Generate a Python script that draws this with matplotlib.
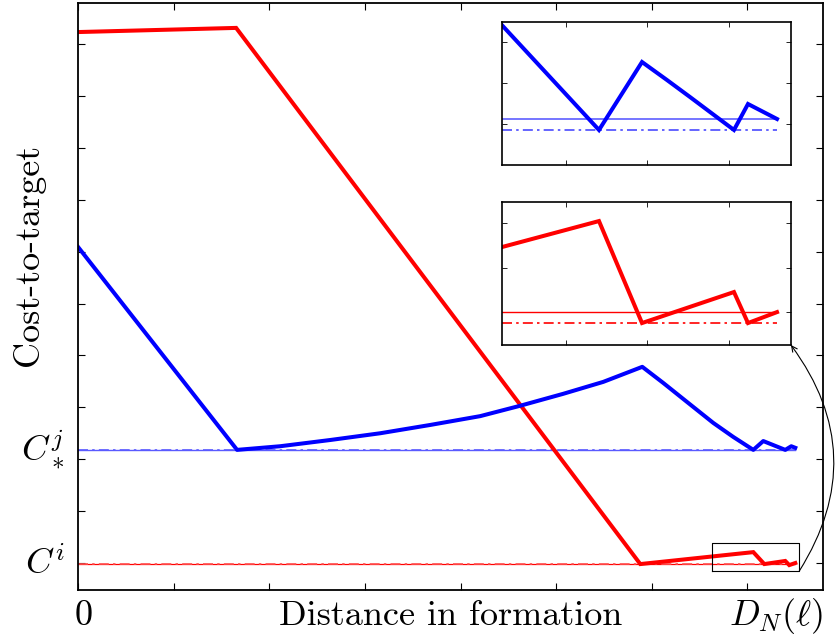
import matplotlib
matplotlib.use('Agg')
import matplotlib.pyplot as plt

plt.rcParams['mathtext.fontset'] = 'cm'
plt.rcParams['font.family'] = ['cmr10', 'DejaVu Serif']
plt.rcParams['axes.formatter.use_mathtext'] = True

# main curves: distance in formation vs cost-to-target
red_x = [0.0, 1.653, 5.879, 7.061, 7.176, 7.395, 7.437, 7.50]
red_y = [11.23, 11.31, 0.98, 1.21, 0.98, 1.04, 0.96, 1.00]

blue_x = [0.0, 1.663, 2.113, 2.636, 3.159, 3.682, 4.205, 4.623, 5.073, 5.492,
          5.900, 6.119, 6.370, 6.642, 6.851, 7.061, 7.165, 7.395, 7.458, 7.50]
blue_y = [7.09, 3.18, 3.25, 3.37, 3.50, 3.66, 3.83, 4.03, 4.26, 4.49,
          4.78, 4.47, 4.10, 3.70, 3.43, 3.18, 3.35, 3.18, 3.25, 3.22]

c_i = 0.98        # C^i
c_j_star = 3.18   # C^j_*
line_end = 7.50

# zoom box around the red tail
box_x = [6.632, 7.542]
box_y = [0.846, 1.386]

# inset data (zoomed tails)
ins_blue_x = [0.215, 1.405, 1.933, 2.239, 2.521, 3.061, 3.233, 3.589]
ins_blue_y = [3.41, 0.854, 2.512, 2.073, 1.659, 0.854, 1.488, 1.122]
ins_blue_ref = 1.122
ins_blue_opt = 0.854

ins_red_x = [0.215, 1.405, 1.933, 3.061, 3.233, 3.589]
ins_red_y = [2.462, 3.046, 0.754, 1.451, 0.754, 1.0]
ins_red_ref = 1.0
ins_red_opt = 0.754

dashdot = (0, (6, 2.5, 1.5, 2.5))
lw_main = 2.9

fig = plt.figure(figsize=(8.4, 6.36), dpi=100)
ax = fig.add_axes([0.0929, 0.0723, 0.8869, 0.9230])

ax.plot([0, line_end], [c_j_star, c_j_star], color='#5a5aff', lw=1.0)
ax.plot([0, line_end], [c_j_star, c_j_star], color='#5a5aff', lw=1.2, ls=dashdot)
ax.plot([0, line_end], [c_i, c_i], color='red', lw=0.9)
ax.plot([0, line_end], [c_i, c_i], color='#ff5050', lw=1.2, ls=dashdot)

ax.plot(red_x, red_y, color='red', lw=lw_main, solid_joinstyle='miter')
ax.plot(blue_x, blue_y, color='blue', lw=lw_main, solid_joinstyle='round')

ax.plot([box_x[0], box_x[1], box_x[1], box_x[0], box_x[0]],
        [box_y[0], box_y[0], box_y[1], box_y[1], box_y[0]],
        color='black', lw=0.8)

ax.set_xlim(0, 7.79)
ax.set_ylim(0.48, 11.79)
ax.set_xticks(range(0, 8))
ax.set_yticks(range(1, 12))
ax.set_xticklabels([])
ax.set_yticklabels([])
ax.tick_params(direction='in', length=5, width=0.8, top=True, right=True)
for sp in ax.spines.values():
    sp.set_linewidth(1.3)

fs = 26
ax.text(0.0075, -0.06, '0', transform=ax.transAxes, fontsize=fs,
        ha='center', va='baseline')
ax.text(0.5, -0.06, 'Distance in formation', transform=ax.transAxes,
        fontsize=fs, ha='center', va='baseline')
ax.text(1.0, -0.06, r'$D_N(\ell)$', transform=ax.transAxes, fontsize=fs,
        ha='right', va='baseline')
ax.text(-0.067, 0.57, 'Cost-to-target', transform=ax.transAxes, fontsize=fs,
        rotation=90, ha='center', va='center')
ax.text(-0.018, c_j_star, r'$C^j_*$', transform=ax.get_yaxis_transform(),
        fontsize=fs, ha='right', va='center')
ax.text(-0.018, c_i, r'$C^i$', transform=ax.get_yaxis_transform(),
        fontsize=fs, ha='right', va='center')

# insets
ax_top = fig.add_axes([0.5976, 0.7406, 0.344, 0.2248])
ax_top.plot([ins_blue_x[0], ins_blue_x[-1]], [ins_blue_ref, ins_blue_ref],
            color='#6a6aff', lw=1.3)
ax_top.plot([ins_blue_x[0], ins_blue_x[-1]], [ins_blue_opt, ins_blue_opt],
            color='#4a4aff', lw=1.2, ls=dashdot)
ax_top.plot(ins_blue_x, ins_blue_y, color='blue', lw=lw_main, solid_joinstyle='miter')
ax_top.set_xlim(0.215, 3.76)
ax_top.set_ylim(0, 3.488)

ax_bot = fig.add_axes([0.5976, 0.4575, 0.344, 0.2248])
ax_bot.plot([ins_red_x[0], ins_red_x[-1]], [ins_red_ref, ins_red_ref],
            color='red', lw=1.0)
ax_bot.plot([ins_red_x[0], ins_red_x[-1]], [ins_red_opt, ins_red_opt],
            color='red', lw=1.2, ls=dashdot)
ax_bot.plot(ins_red_x, ins_red_y, color='red', lw=lw_main, solid_joinstyle='miter')
ax_bot.set_xlim(0.215, 3.76)
ax_bot.set_ylim(0.26, 3.473)

for a in (ax_top, ax_bot):
    a.set_xticks([1, 2, 3])
    a.set_yticks([1, 2, 3])
    a.set_xticklabels([])
    a.set_yticklabels([])
    a.tick_params(direction='in', length=3.5, width=0.6, top=True, right=True)
    for sp in a.spines.values():
        sp.set_linewidth(1.2)

# curved arrow from zoom box to the red inset
ax.annotate('', xy=(1.0, 0.0), xycoords=ax_bot.transAxes,
            xytext=(box_x[1], box_y[0]), textcoords='data',
            arrowprops=dict(arrowstyle='->', color='black', lw=0.8,
                            connectionstyle='arc3,rad=0.34',
                            shrinkA=0, shrinkB=0),
            annotation_clip=False)

fig.savefig('out.png', dpi=100)
